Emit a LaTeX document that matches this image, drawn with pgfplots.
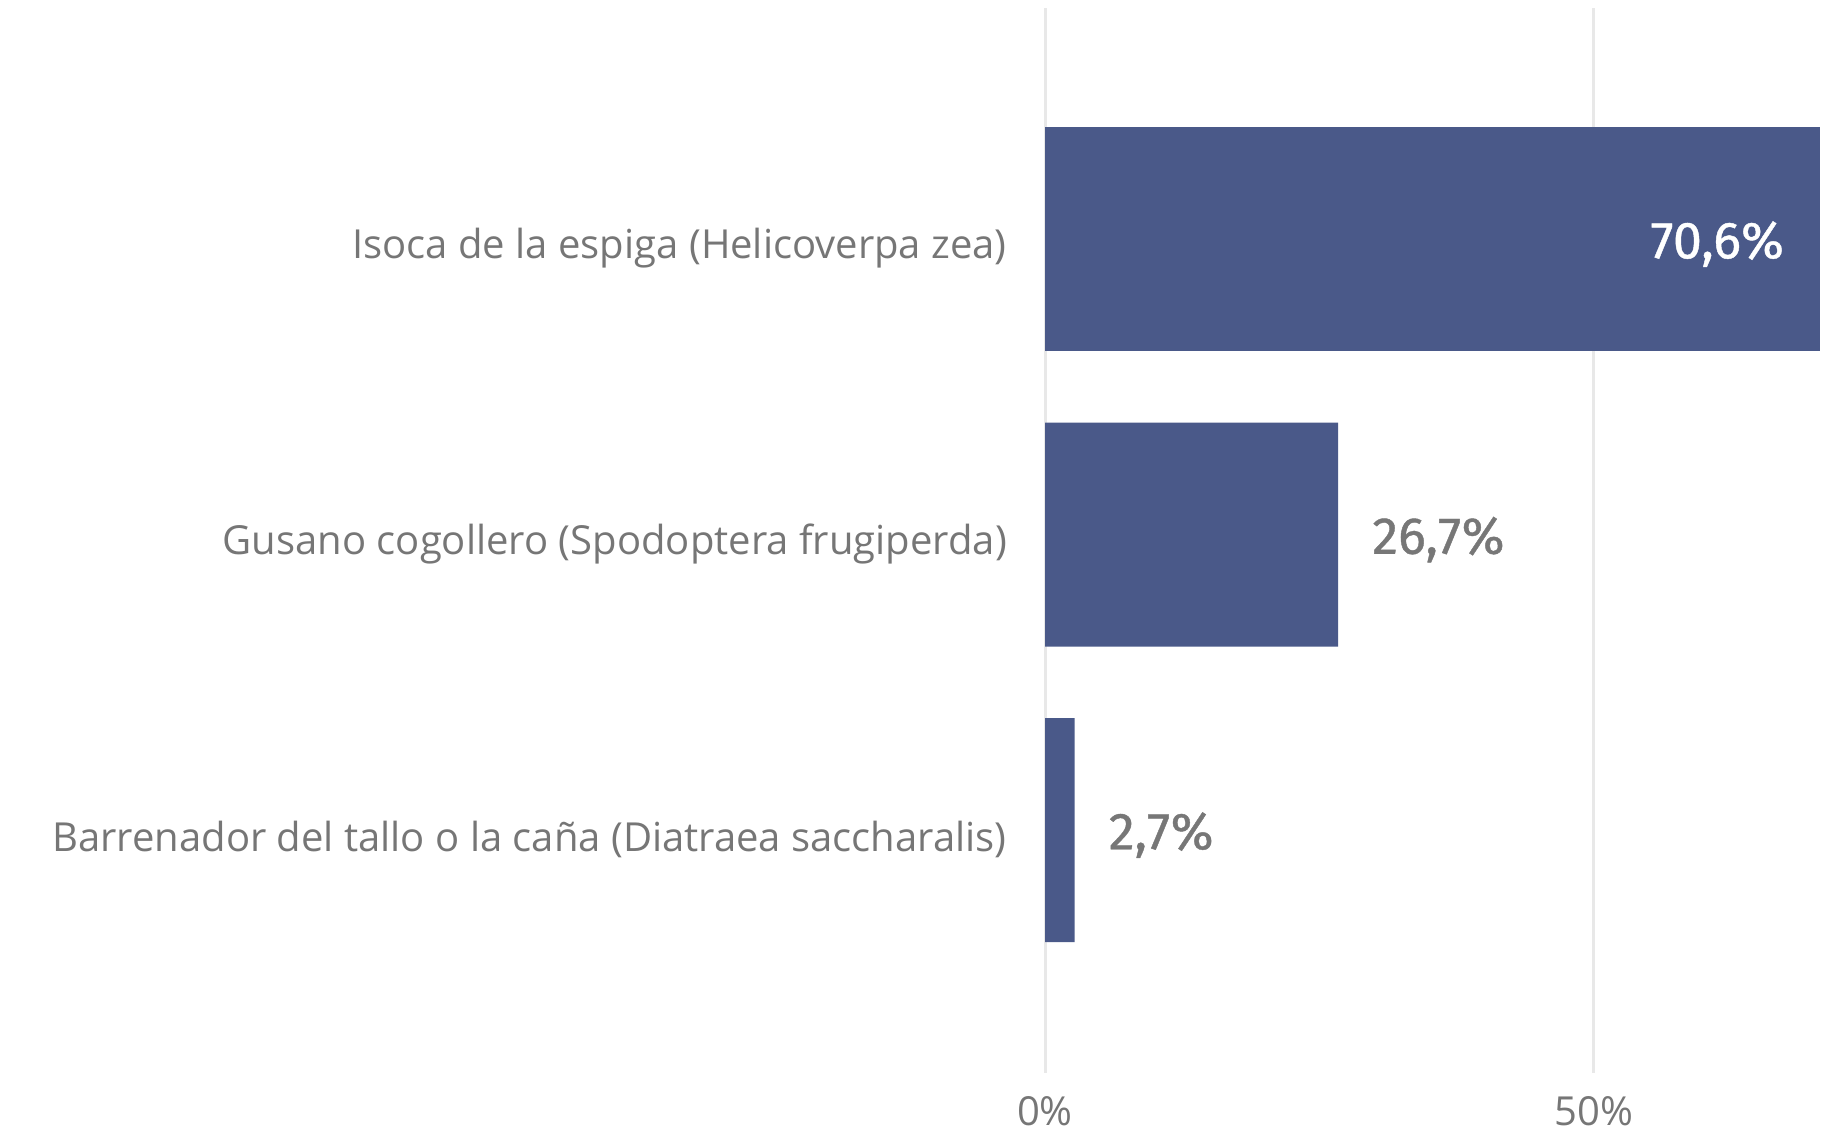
\documentclass[border=0pt]{standalone}
\usepackage{pgfplots}
\pgfplotsset{compat=1.18}
\usepackage{fontspec}
\setmainfont{Open Sans}
\newfontfamily\dinfont[FakeBold=0.8]{Fira Sans}
\definecolor{barblue}{HTML}{4A5989}
\definecolor{txtgray}{HTML}{767676}
\definecolor{lblgray}{HTML}{777777}
\definecolor{gridgray}{HTML}{E8E8E8}
\begin{document}
\begin{tikzpicture}
\useasboundingbox (0,0) rectangle (1843pt,1132pt);
\begin{axis}[
  at={(1045pt,59pt)}, anchor=south west,
  scale only axis, width=798pt, height=1065pt,
  xmin=0, xmax=72.68, ymin=-0.822, ymax=2.782,
  axis line style={draw=none},
  major tick length=0pt,
  xtick={0,50}, xticklabels={0\%,50\%},
  xmajorgrids, grid style={gridgray, line width=3pt},
  ytick={0,1,2},
  yticklabels={Barrenador del tallo o la caña (Diatraea saccharalis), Gusano cogollero (Spodoptera frugiperda), Isoca de la espiga (Helicoverpa zea)},
  yticklabel style={anchor=east, inner sep=0pt, xshift=-38pt, yshift=-9pt, font=\fontsize{40}{48}\selectfont, text=txtgray},
  xticklabel style={anchor=base, inner sep=0pt, yshift=-52pt, font=\fontsize{40}{48}\selectfont, text=txtgray},
  /pgf/number format/assume math mode=true,
  clip=false,
]
\addplot[xbar, bar width=224pt, bar shift=0pt, fill=barblue, draw=none,
  point meta=x,
  nodes near coords={\pgfmathprintnumber[fixed,fixed zerofill,precision=1,use comma]{\pgfplotspointmeta}\%},
  nodes near coords style={anchor=east, inner sep=0pt, xshift=-36pt, yshift=-5pt, text=white, font=\dinfont\fontsize{52}{60}\selectfont}]
  coordinates {(70.6,2)};
\addplot[xbar, bar width=224pt, bar shift=0pt, fill=barblue, draw=none,
  point meta=x,
  nodes near coords={\pgfmathprintnumber[fixed,fixed zerofill,precision=1,use comma]{\pgfplotspointmeta}\%},
  nodes near coords style={anchor=west, inner sep=0pt, xshift=34pt, yshift=-5pt, text=lblgray, font=\dinfont\fontsize{52}{60}\selectfont}]
  coordinates {(2.7,0) (26.7,1)};
\end{axis}
\end{tikzpicture}
\end{document}
